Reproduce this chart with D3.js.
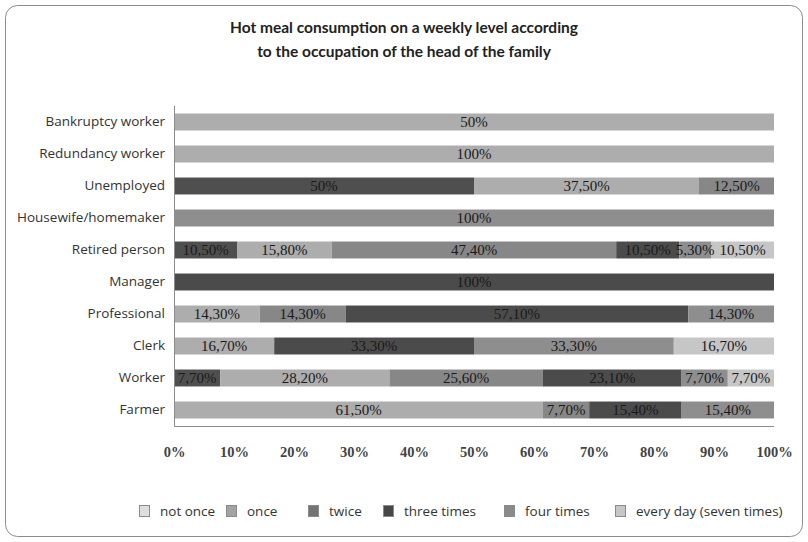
<!DOCTYPE html>
<html>
<head>
<meta charset="utf-8">
<script src="https://cdn.jsdelivr.net/npm/d3@7"></script>
<style>
  body { margin: 0; background: #fff; }
  svg { display: block; }
</style>
</head>
<body>
<svg id="chart" width="808" height="542"></svg>
<script>
// categories, bottom row first as in the source chart
const categories = ["Farmer", "Worker", "Clerk", "Professional", "Manager",
  "Retired person", "Housewife/homemaker", "Unemployed", "Redundancy worker", "Bankruptcy worker"];

const seriesKeys = ["notOnce", "once", "twice", "three", "four", "everyDay"];
const seriesNames = ["not once", "once", "twice", "three times", "four times", "every day (seven times)"];

// shares in % per category (same order as categories)
const notOnce  = [0,    7.7,  0,    0,    0,   10.5, 0,   50,   0,   0];
const once     = [61.5, 28.2, 16.7, 14.3, 0,   15.8, 0,   37.5, 100, 100];
const twice    = [7.7,  25.6, 0,    14.3, 0,   47.4, 0,   12.5, 0,   0];
const three    = [15.4, 23.1, 33.3, 57.1, 100, 10.5, 0,   0,    0,   0];
const four     = [15.4, 7.7,  33.3, 14.3, 0,   5.3,  100, 0,    0,   0];
const everyDay = [0,    7.7,  16.7, 0,    0,   10.5, 0,   0,    0,   0];

// the source prints a different label on one bar
const labelOverride = { "Bankruptcy worker": { once: "50%" } };

const xTicks = [0, 10, 20, 30, 40, 50, 60, 70, 80, 90, 100];

const barColors = ["#4f4f4f", "#adadad", "#878787", "#4b4b4b", "#8e8e8e", "#c6c6c6"];
const legendColors = ["#dedede", "#a3a3a3", "#747474", "#474747", "#8a8a8a", "#c6c6c6"];

const seriesData = [notOnce, once, twice, three, four, everyDay];
const rows = categories.map((c, i) => {
    const r = { category: c };
    seriesKeys.forEach((k, j) => r[k] = seriesData[j][i]);
    return r;
});

const svg = d3.select("#chart");
const W = 808, H = 542;
const plot = { left: 174, right: 774, top: 106, bottom: 426 };

// chart frame
svg.append("rect")
    .attr("x", 5.5).attr("y", 5.5)
    .attr("width", W - 11).attr("height", H - 11)
    .attr("rx", 12)
    .attr("fill", "#fff")
    .attr("stroke", "#8c8c8c")
    .attr("stroke-width", 1);

// title
const title = svg.append("text")
    .attr("x", 404).attr("y", 33)
    .attr("text-anchor", "middle")
    .style("font-family", "Lato, 'Open Sans', sans-serif")
    .style("font-weight", "bold")
    .style("font-size", "15.5px")
    .attr("fill", "#222");
title.append("tspan").attr("x", 404).attr("dy", 0).text("Hot meal consumption on a weekly level according");
title.append("tspan").attr("x", 404).attr("dy", 24).text("to the occupation of the head of the family");

const x = d3.scaleLinear().domain([0, 100]).range([plot.left, plot.right]);
const y = d3.scaleBand().domain(categories.slice().reverse())
    .range([plot.top, plot.bottom]).paddingInner(0.47).paddingOuter(0.235);
const color = d3.scaleOrdinal().domain(seriesKeys).range(barColors);

const stacked = d3.stack().keys(seriesKeys)(rows);

// bars
const layers = svg.append("g").selectAll("g")
    .data(stacked)
    .join("g")
    .attr("fill", d => color(d.key));

layers.selectAll("rect")
    .data(d => d.map(p => ({ key: d.key, p })))
    .join("rect")
    .attr("x", d => x(d.p[0]))
    .attr("y", d => y(d.p.data.category))
    .attr("width", d => x(d.p[1]) - x(d.p[0]))
    .attr("height", y.bandwidth());

// value labels
const fmt = v => Number.isInteger(v) ? v + "%" : v.toFixed(2).replace(".", ",") + "%";
const labels = [];
stacked.forEach(s => s.forEach(p => {
    const v = p[1] - p[0];
    if (v <= 0) return;
    const cat = p.data.category;
    const over = labelOverride[cat] && labelOverride[cat][s.key];
    labels.push({ cx: x((p[0] + p[1]) / 2), cy: y(cat) + y.bandwidth() / 2, text: over || fmt(+p.data[s.key]) });
}));

svg.append("g").selectAll("text")
    .data(labels)
    .join("text")
    .attr("x", d => d.cx)
    .attr("y", d => d.cy)
    .attr("dy", "0.35em")
    .attr("text-anchor", "middle")
    .style("font-family", "'Liberation Serif', 'DejaVu Serif', serif")
    .style("font-size", "15px")
    .attr("fill", "#1a1a1a")
    .text(d => d.text);

// axes lines
svg.append("line")
    .attr("x1", plot.left + 0.5).attr("x2", plot.left + 0.5)
    .attr("y1", plot.top).attr("y2", plot.bottom)
    .attr("stroke", "#8c8c8c");
svg.append("line")
    .attr("x1", plot.left).attr("x2", plot.right)
    .attr("y1", plot.bottom + 0.5).attr("y2", plot.bottom + 0.5)
    .attr("stroke", "#8c8c8c");

// category labels
const yAxis = svg.append("g")
    .attr("transform", `translate(${plot.left},0)`)
    .call(d3.axisLeft(y).tickSize(0).tickPadding(9));
yAxis.select(".domain").remove();
yAxis.selectAll("text")
    .style("font-family", "'Open Sans', sans-serif")
    .style("font-size", "13.5px")
    .attr("fill", "#333");

// percent ticks
const xAxis = svg.append("g")
    .attr("transform", `translate(0,${plot.bottom})`)
    .call(d3.axisBottom(x).tickValues(xTicks).tickFormat(d => d + "%").tickSize(0).tickPadding(21));
xAxis.select(".domain").remove();
xAxis.selectAll("text")
    .style("font-family", "'Liberation Serif', serif")
    .style("font-weight", "bold")
    .style("font-size", "14.5px")
    .attr("fill", "#444");

// legend
const legendX = [139, 226, 308, 383, 504, 615];
const legend = svg.append("g").attr("transform", "translate(0,505)");
const items = legend.selectAll("g")
    .data(seriesNames)
    .join("g")
    .attr("transform", (d, i) => `translate(${legendX[i]},0)`);
items.append("rect")
    .attr("x", 0.5).attr("y", 0.5)
    .attr("width", 10).attr("height", 11)
    .attr("fill", (d, i) => legendColors[i])
    .attr("stroke", "#8a8a8a");
items.append("text")
    .attr("x", 21).attr("y", 6).attr("dy", "0.35em")
    .style("font-family", "'Open Sans', sans-serif")
    .style("font-size", "13.5px")
    .attr("fill", "#333")
    .text(d => d);
</script>
</body>
</html>
